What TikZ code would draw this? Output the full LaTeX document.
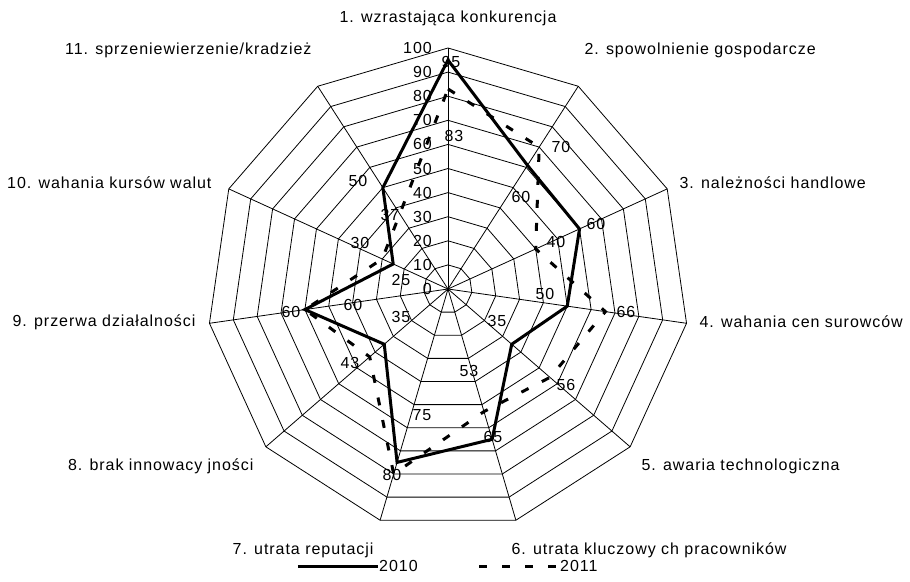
\documentclass[tikz,border=0pt]{standalone}
\usepackage{fontspec}
\setmainfont[LetterSpace=6]{Liberation Sans}

\begin{document}
\begin{tikzpicture}[x=1pt,y=1pt,font=\fontsize{16}{19}\selectfont,
    grid/.style={black, line width=0.8pt},
    ser2010/.style={black, line width=3pt},
    ser2011/.style={black, line width=3pt, dash pattern=on 8pt off 15pt},
    vlab/.style={inner sep=0pt}]

    \useasboundingbox (-448,-292) rectangle (462,289);

    % rings and spokes
    \foreach \r in {1,...,10}
        \draw[grid] (90:{24.1*\r}) \foreach \k in {1,...,10}{ -- ({90-\k*360/11}:{24.1*\r})} -- cycle;
    \foreach \k in {0,...,10}
        \draw[grid] (0,0) -- ({90-\k*360/11}:241);

    % scale
    \foreach \v in {0,10,...,100}
        \node[vlab, anchor=east] (s\v) at (-16,{2.41*\v}) {\v};

    % points
    \foreach \v [count=\k] in {95,61,60,50,35,65,75,35,60,25,50}
        \coordinate (a\k) at ({90-(\k-1)*360/11}:{2.41*\v});
    \foreach \v [count=\k] in {83,70,40,66,56,53,80,43,60,30,37}
        \coordinate (b\k) at ({90-(\k-1)*360/11}:{2.41*\v});

    \draw[ser2011] (b1) \foreach \k in {2,...,11}{ -- (b\k)} -- cycle;
    \draw[ser2010] (a1) \foreach \k in {2,...,11}{ -- (a\k)} -- cycle;

    % categories
    \node (c1) at (0,271) {1. wzrastająca konkurencja};
    \node[anchor=west] (c2) at (133,239) {2. spowolnienie gospodarcze};
    \node[anchor=west] (c3) at (228,106) {3. należności handlowe};
    \node[anchor=west] (c4) at (248,-33) {4. wahania cen surowców};
    \node[anchor=west] (c5) at (190,-177) {5. awaria technologiczna};
    \node[anchor=west] (c6) at (60,-261) {6. utrata kluczowy ch pracowników};
    \node[anchor=east] (c7) at (-71,-261) {7. utrata reputacji};
    \node[anchor=east] (c8) at (-191,-177) {8. brak innowacy jności};
    \node[anchor=east] (c9) at (-249,-33) {9. przerwa działalności};
    \node[anchor=east] (c10) at (-233,106) {10. wahania kursów walut};
    \node[anchor=east] (c11) at (-133,239) {11. sprzeniewierzenie/kradzież};

    % values
    \node[vlab] (v1a) at (3,227) {95};
    \node[vlab] (v1b) at (6,153) {83};
    \node[vlab] (v2b) at (113,142) {70};
    \node[vlab] (v2a) at (73,92) {60};
    \node[vlab] (v3a) at (148,65) {60};
    \node[vlab] (v3b) at (108,47) {40};
    \node[vlab] (v4a) at (97,-5) {50};
    \node[vlab] (v4b) at (178,-23) {66};
    \node[vlab] (v5a) at (49,-32) {35};
    \node[vlab] (v5b) at (118,-96) {56};
    \node[vlab] (v6b) at (21,-82) {53};
    \node[vlab] (v6a) at (45,-148) {65};
    \node[vlab] (v7a) at (-26,-126) {75};
    \node[vlab] (v7b) at (-56,-186) {80};
    \node[vlab] (v8b) at (-98,-74) {43};
    \node[vlab] (v8a) at (-47,-28) {35};
    \node[vlab] (v9b) at (-95,-16) {60};
    \node[vlab] (v9a) at (-157,-23) {60};
    \node[vlab] (v10a) at (-47,9) {25};
    \node[vlab] (v10b) at (-88,46) {30};
    \node[vlab] (v11b) at (-58,74) {37};
    \node[vlab] (v11a) at (-90,108) {50};

    % legend
    \coordinate (l1) at (-150,-277);
    \node[anchor=west, inner sep=1pt] (t1) at (-70,-277) {2010};
    \draw[ser2010] (l1) -- (t1.west);
    \coordinate (l2) at (31,-277);
    \node[anchor=west, inner sep=1pt] (t2) at (111,-277) {2011};
    \draw[ser2011] (l2) -- (t2.west);

\end{tikzpicture}
\end{document}
